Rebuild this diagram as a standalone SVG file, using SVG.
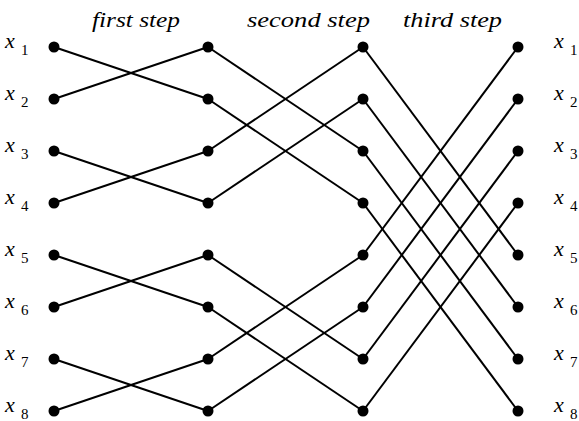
<svg xmlns="http://www.w3.org/2000/svg" width="579" height="421" viewBox="0 0 579 421">
<style>
.t{font-style:italic;font-size:22px;fill:#000}
.x{font-style:italic;font-size:22px;fill:#000}
.s{font-style:normal;font-size:15px;fill:#000}
.e{stroke:#000;stroke-width:2;fill:none}
.n{fill:#000}
</style>
<rect width="579" height="421" fill="#fff"/>
<g id="titles" font-family="Liberation Serif, Times New Roman, serif">
<text class="t" x="92" y="27" textLength="88" lengthAdjust="spacingAndGlyphs">first step</text>
<text class="t" x="247" y="27" textLength="123" lengthAdjust="spacingAndGlyphs">second step</text>
<text class="t" x="403" y="27" textLength="99" lengthAdjust="spacingAndGlyphs">third step</text>
</g>
<g id="connectors">
<line class="e" x1="54" y1="47" x2="208" y2="99"/>
<line class="e" x1="54" y1="99" x2="208" y2="47"/>
<line class="e" x1="54" y1="151" x2="208" y2="203"/>
<line class="e" x1="54" y1="203" x2="208" y2="151"/>
<line class="e" x1="54" y1="255" x2="208" y2="307"/>
<line class="e" x1="54" y1="307" x2="208" y2="255"/>
<line class="e" x1="54" y1="359" x2="208" y2="411"/>
<line class="e" x1="54" y1="411" x2="208" y2="359"/>
<line class="e" x1="208" y1="47" x2="363" y2="151"/>
<line class="e" x1="208" y1="99" x2="363" y2="203"/>
<line class="e" x1="208" y1="151" x2="363" y2="47"/>
<line class="e" x1="208" y1="203" x2="363" y2="99"/>
<line class="e" x1="208" y1="255" x2="363" y2="359"/>
<line class="e" x1="208" y1="307" x2="363" y2="411"/>
<line class="e" x1="208" y1="359" x2="363" y2="255"/>
<line class="e" x1="208" y1="411" x2="363" y2="307"/>
<line class="e" x1="363" y1="47" x2="518" y2="255"/>
<line class="e" x1="363" y1="99" x2="518" y2="307"/>
<line class="e" x1="363" y1="151" x2="518" y2="359"/>
<line class="e" x1="363" y1="203" x2="518" y2="411"/>
<line class="e" x1="363" y1="255" x2="518" y2="47"/>
<line class="e" x1="363" y1="307" x2="518" y2="99"/>
<line class="e" x1="363" y1="359" x2="518" y2="151"/>
<line class="e" x1="363" y1="411" x2="518" y2="203"/>
</g>
<g id="col0">
<circle class="n" cx="54" cy="47" r="5.5"/><circle class="n" cx="54" cy="99" r="5.5"/>
<circle class="n" cx="54" cy="151" r="5.5"/><circle class="n" cx="54" cy="203" r="5.5"/>
<circle class="n" cx="54" cy="255" r="5.5"/><circle class="n" cx="54" cy="307" r="5.5"/>
<circle class="n" cx="54" cy="359" r="5.5"/><circle class="n" cx="54" cy="411" r="5.5"/>
</g>
<g id="col1">
<circle class="n" cx="208" cy="47" r="5.5"/><circle class="n" cx="208" cy="99" r="5.5"/>
<circle class="n" cx="208" cy="151" r="5.5"/><circle class="n" cx="208" cy="203" r="5.5"/>
<circle class="n" cx="208" cy="255" r="5.5"/><circle class="n" cx="208" cy="307" r="5.5"/>
<circle class="n" cx="208" cy="359" r="5.5"/><circle class="n" cx="208" cy="411" r="5.5"/>
</g>
<g id="col2">
<circle class="n" cx="363" cy="47" r="5.5"/><circle class="n" cx="363" cy="99" r="5.5"/>
<circle class="n" cx="363" cy="151" r="5.5"/><circle class="n" cx="363" cy="203" r="5.5"/>
<circle class="n" cx="363" cy="255" r="5.5"/><circle class="n" cx="363" cy="307" r="5.5"/>
<circle class="n" cx="363" cy="359" r="5.5"/><circle class="n" cx="363" cy="411" r="5.5"/>
</g>
<g id="col3">
<circle class="n" cx="518" cy="47" r="5.5"/><circle class="n" cx="518" cy="99" r="5.5"/>
<circle class="n" cx="518" cy="151" r="5.5"/><circle class="n" cx="518" cy="203" r="5.5"/>
<circle class="n" cx="518" cy="255" r="5.5"/><circle class="n" cx="518" cy="307" r="5.5"/>
<circle class="n" cx="518" cy="359" r="5.5"/><circle class="n" cx="518" cy="411" r="5.5"/>
</g>
<g id="labels-left" font-family="Liberation Serif, Times New Roman, serif">
<text x="5" y="48"><tspan class="x">x</tspan><tspan class="s" x="21" y="55">1</tspan></text>
<text x="5" y="100"><tspan class="x">x</tspan><tspan class="s" x="21" y="107">2</tspan></text>
<text x="5" y="152"><tspan class="x">x</tspan><tspan class="s" x="21" y="159">3</tspan></text>
<text x="5" y="204"><tspan class="x">x</tspan><tspan class="s" x="21" y="211">4</tspan></text>
<text x="5" y="256"><tspan class="x">x</tspan><tspan class="s" x="21" y="263">5</tspan></text>
<text x="5" y="308"><tspan class="x">x</tspan><tspan class="s" x="21" y="315">6</tspan></text>
<text x="5" y="360"><tspan class="x">x</tspan><tspan class="s" x="21" y="367">7</tspan></text>
<text x="5" y="412"><tspan class="x">x</tspan><tspan class="s" x="21" y="419">8</tspan></text>
</g>
<g id="labels-right" font-family="Liberation Serif, Times New Roman, serif">
<text x="554" y="48"><tspan class="x">x</tspan><tspan class="s" x="570" y="55">1</tspan></text>
<text x="554" y="100"><tspan class="x">x</tspan><tspan class="s" x="570" y="107">2</tspan></text>
<text x="554" y="152"><tspan class="x">x</tspan><tspan class="s" x="570" y="159">3</tspan></text>
<text x="554" y="204"><tspan class="x">x</tspan><tspan class="s" x="570" y="211">4</tspan></text>
<text x="554" y="256"><tspan class="x">x</tspan><tspan class="s" x="570" y="263">5</tspan></text>
<text x="554" y="308"><tspan class="x">x</tspan><tspan class="s" x="570" y="315">6</tspan></text>
<text x="554" y="360"><tspan class="x">x</tspan><tspan class="s" x="570" y="367">7</tspan></text>
<text x="554" y="412"><tspan class="x">x</tspan><tspan class="s" x="570" y="419">8</tspan></text>
</g>
</svg>
